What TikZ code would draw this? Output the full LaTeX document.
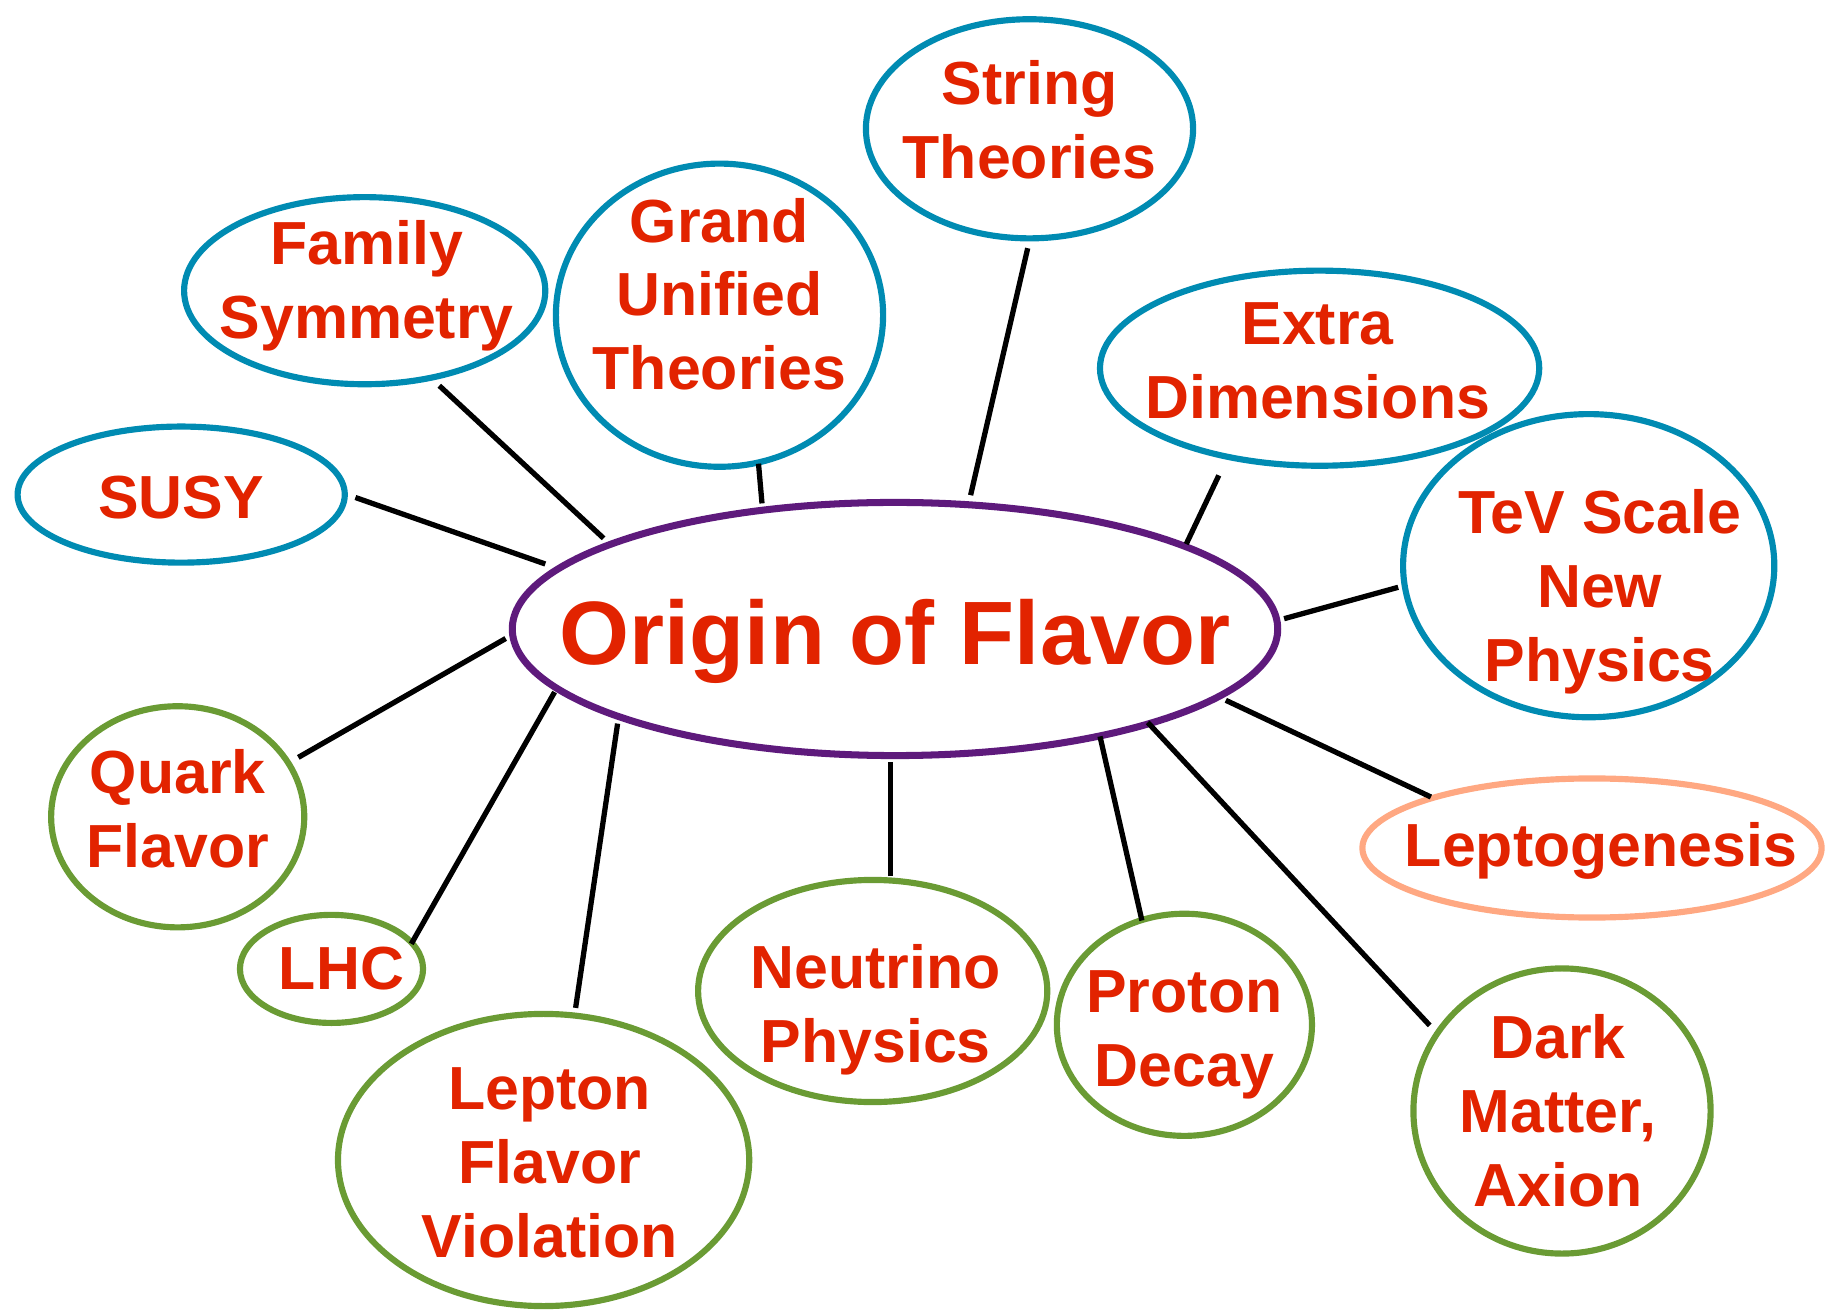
\documentclass[tikz,border=0pt]{standalone}
\usepackage{fontspec}
\setmainfont{Liberation Sans}
\usetikzlibrary{shapes.geometric}
\definecolor{txtred}{RGB}{226,35,0}
\definecolor{topicblue}{RGB}{0,139,178}
\definecolor{mainpurple}{RGB}{94,26,124}
\definecolor{topicgreen}{RGB}{106,155,52}
\definecolor{topicsalmon}{RGB}{255,168,130}
\tikzset{
  bubble/.style={ellipse, draw, line width=1.75pt, inner sep=0pt},
  bluebub/.style={bubble, draw=topicblue},
  greenbub/.style={bubble, draw=topicgreen},
  salmonbub/.style={bubble, draw=topicsalmon},
  lbl/.style={inner sep=0pt, align=center, text=txtred, font=\fontsize{17.3}{21}\selectfont\bfseries},
  link/.style={line width=1.5pt, black},
  esz/.style 2 args={minimum width=#1cm, minimum height=#2cm},
}
\begin{document}
\begin{tikzpicture}[x=0.01cm, y=-0.01cm]
\useasboundingbox (0,0) rectangle (1827,1313);
% ellipses
\node[bubble, draw=mainpurple, line width=2pt, esz={7.65}{2.53}] (main) at (895,629) {};
\node[bluebub, esz={3.27}{2.19}] (string) at (1029.5,128.8) {};
\node[bluebub, esz={3.27}{3.03}] (gut) at (719.5,315.2) {};
\node[bluebub, esz={3.61}{1.87}] (family) at (364.7,290.7) {};
\node[bluebub, esz={3.27}{1.36}] (susy) at (181.2,494.6) {};
\node[bluebub, esz={4.39}{1.95}] (extra) at (1319.6,368.2) {};
\node[bluebub, esz={3.71}{3.03}] (tev) at (1588.7,565.7) {};
\node[salmonbub, esz={4.59}{1.39}] (lepto) at (1592,848) {};
\node[greenbub, esz={2.53}{2.21}] (quark) at (177.7,816.8) {};
\node[greenbub, esz={1.83}{1.08}] (lhc) at (331.5,968.9) {};
\node[greenbub, esz={4.11}{2.92}] (lfv) at (543.6,1160) {};
\node[greenbub, esz={3.49}{2.22}] (neutrino) at (872.7,991) {};
\node[greenbub, esz={2.55}{2.22}] (proton) at (1184.4,1024.8) {};
\node[greenbub, esz={2.97}{2.85}] (dark) at (1562,1111) {};
% labels
\node[lbl, font=\fontsize{25.6}{30}\selectfont\bfseries] (main-t) at ([shift={(0,12)}]main) {Origin of Flavor};
\node[lbl] (string-t) at ([shift={(0,-9)}]string) {String\\Theories};
\node[lbl] (gut-t) at ([shift={(0,-21)}]gut) {Grand\\Unified\\Theories};
\node[lbl] (family-t) at ([shift={(2,-5)}]family) {Family\\Symmetry};
\node[lbl] (susy-t) at ([shift={(0,3)}]susy) {SUSY};
\node[lbl] (extra-t) at ([shift={(-2,-7)}]extra) {Extra\\Dimensions};
\node[lbl] (tev-t) at ([shift={(11,26)}]tev) {TeV Scale\\New\\Physics};
\node[lbl] (lepto-t) at ([shift={(9,3)}]lepto) {Leptogenesis};
\node[lbl] (quark-t) at ([shift={(0,-8)}]quark) {Quark\\Flavor};
\node[lbl] (lhc-t) at ([shift={(10,0)}]lhc) {LHC};
\node[lbl] (lfv-t) at ([shift={(6,3)}]lfv) {Lepton\\Flavor\\Violation};
\node[lbl] (neutrino-t) at ([shift={(3,19)}]neutrino) {Neutrino\\Physics};
\node[lbl] (proton-t) at ([shift={(0,10)}]proton) {Proton\\Decay};
\node[lbl] (dark-t) at ([shift={(-4,0)}]dark) {Dark\\Matter,\\Axion};
% connector end points
\coordinate (family-o) at (439.3,385.7);   \coordinate (family-i) at (603.6,538.3);
\coordinate (susy-o) at (355.4,497.5);     \coordinate (susy-i) at (545.3,564.0);
\coordinate (gut-o) at (758.5,463.7);      \coordinate (gut-i) at (762.0,503.4);
\coordinate (string-o) at (1027.7,248.2);  \coordinate (string-i) at (970.6,495.2);
\coordinate (extra-o) at (1218.8,475.4);   \coordinate (extra-i) at (1186.2,544.1);
\coordinate (tev-o) at (1398.2,587.3);     \coordinate (tev-i) at (1284.1,618.7);
\coordinate (lepto-o) at (1430.9,797.0);   \coordinate (lepto-i) at (1225.8,700.3);
\coordinate (dark-o) at (1429.7,1025.4);   \coordinate (dark-i) at (1147.7,722.4);
\coordinate (proton-o) at (1141.9,920.5);  \coordinate (proton-i) at (1100.0,736.4);
\coordinate (neutrino-o) at (890.2,876.2); \coordinate (neutrino-i) at (890.2,762.0);
\coordinate (lfv-o) at (575.6,1007.9);     \coordinate (lfv-i) at (617.6,723.6);
\coordinate (lhc-o) at (411.3,943.8);      \coordinate (lhc-i) at (554.6,692.1);
\coordinate (quark-o) at (298.3,757.4);    \coordinate (quark-i) at (505.7,638.5);
\foreach \n in {family,susy,gut,string,extra,tev,lepto,dark,proton,neutrino,lfv,lhc,quark}
  \draw[link] (\n-o) -- (\n-i);
\end{tikzpicture}
\end{document}
